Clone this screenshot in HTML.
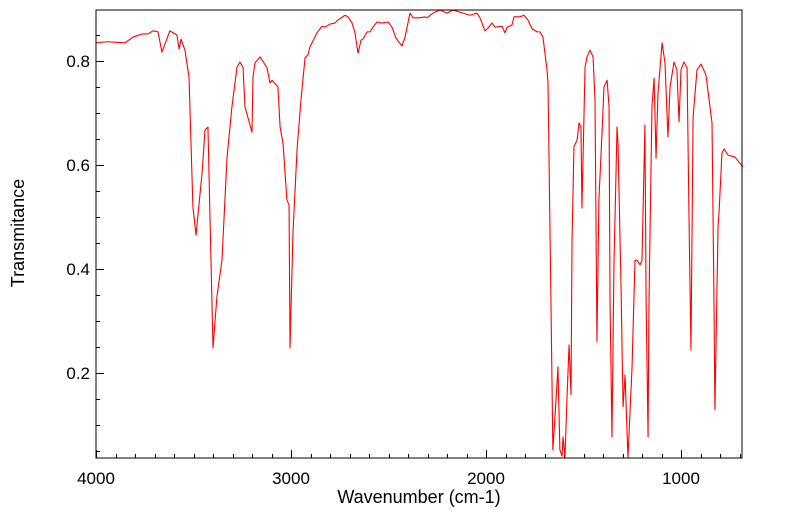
<!DOCTYPE html>
<html><head><meta charset="utf-8"><style>
html,body{margin:0;padding:0;background:#fff;}
svg{display:block;font-family:"Liberation Sans",sans-serif;}
</style></head><body>
<svg id="chart" width="799" height="516" viewBox="0 0 799 516" xmlns="http://www.w3.org/2000/svg">
<g id="ticks"></g>
<g id="labels"></g>
<path id="spectrum" fill="none" stroke="#ff0000" stroke-width="1.1" stroke-linejoin="round"></path>
<rect x="96" y="10" width="646" height="448" fill="none" stroke="#000" stroke-width="1"/>
<text x="419" y="503" font-size="18" text-anchor="middle">Wavenumber (cm-1)</text>
<text x="24" y="233" font-size="18" text-anchor="middle" transform="rotate(-90 24 233)">Transmitance</text>
</svg>
<script>
const wavenumbers=[4000,3944,3851,3810,3764,3733,3708,3682,3662,3621,3585,3574,3564,3544,3523,3503,3487,3456,3441,3426,3400,3380,3354,3328,3303,3277,3262,3246,3236,3200,3195,3185,3159,3123,3108,3097,3067,3056,3041,3021,3010,3005,2990,2969,2949,2928,2913,
2903,2867,2841,2826,2800,2774,2759,2723,2708,2687,2672,2656,2641,2631,2610,2595,2580,2559,2533,2503,2482,2462,2431,2415,2390,2374,2338,2313,2303,2272,2236,2200,2169,2118,2082,2046,2031,2005,1990,1969,1954,1918,1903,1892,1867,1856,1826,1805,1785,1764,1738,1723,1708,1687,
1682,1667,1657,1641,1631,1621,1610,1605,1595,1585,1574,1564,1559,1549,1533,1523,1513,1508,1492,1482,1467,1451,1441,1431,1421,1405,1395,1379,1369,1364,1354,1344,1328,1323,1308,1297,1287,1272,1251,1236,1226,1210,1200,1185,1179,1169,1164,1149,1138,1128,1118,1097,1082,1067,1056,1036,1021,1010,1000,985,969,959,949,938,918,897,872,841,831,826,810,805,790,779,759,723,682];
const transmittance=[0.835,0.837,0.835,0.846,0.852,0.852,0.858,0.856,0.817,0.858,0.850,0.823,0.842,0.821,0.769,0.519,0.465,0.585,0.667,0.673,0.248,0.346,0.417,0.615,0.712,0.788,0.798,0.788,0.712,0.663,0.769,0.796,0.808,0.787,0.758,0.763,0.750,0.673,0.642,0.533,0.523,0.248,0.469,0.629,0.725,0.806,0.812,
0.827,0.854,0.867,0.865,0.871,0.873,0.879,0.888,0.885,0.873,0.854,0.815,0.840,0.842,0.856,0.856,0.865,0.875,0.873,0.875,0.865,0.844,0.829,0.846,0.892,0.883,0.883,0.885,0.883,0.892,0.898,0.892,0.898,0.892,0.888,0.892,0.883,0.858,0.863,0.873,0.865,0.867,0.854,0.865,0.869,0.885,0.885,0.888,0.879,0.862,0.856,0.856,0.846,0.783,
0.758,0.340,0.052,0.148,0.212,0.052,0.040,0.077,0.038,0.148,0.254,0.158,0.450,0.635,0.648,0.681,0.673,0.517,0.788,0.808,0.821,0.808,0.725,0.260,0.533,0.662,0.750,0.763,0.712,0.340,0.077,0.404,0.673,0.642,0.373,0.135,0.196,0.038,0.212,0.417,0.417,0.408,0.417,0.677,0.340,0.077,0.340,0.712,0.767,0.613,0.738,0.835,0.796,0.654,0.750,0.798,0.783,0.683,0.783,0.798,0.787,0.500,0.244,0.692,0.783,0.794,0.773,0.681,0.340,0.129,0.481,0.508,0.623,0.631,0.619,0.615,0.596];
const yTickLabels=[0.2,0.4,0.6,0.8];
const xTickLabels=[4000,3000,2000,1000];

const X0=96,X1=742,Y0=10,Y1=458;
const WN_L=4000,WN_R=4000-(X1-X0)/0.195;
const T_TOP=0.8+51/520,T_BOT=0.8-(Y1-61)/520;
function xs(w){return X0+(WN_L-w)/(WN_L-WN_R)*(X1-X0);}
function ys(t){return Y0+(T_TOP-t)/(T_TOP-T_BOT)*(Y1-Y0);}
const ns="http://www.w3.org/2000/svg";
let d="";
for(let i=0;i<wavenumbers.length;i++){d+=(i?"L":"M")+xs(wavenumbers[i]).toFixed(2)+","+ys(transmittance[i]).toFixed(2);}
document.getElementById('spectrum').setAttribute('d',d);

const tg=document.getElementById('ticks'),lg=document.getElementById('labels');
function line(x1,y1,x2,y2){const l=document.createElementNS(ns,'line');
l.setAttribute('x1',x1);l.setAttribute('y1',y1);l.setAttribute('x2',x2);l.setAttribute('y2',y2);
l.setAttribute('stroke','#000');l.setAttribute('stroke-width','1');


tg.appendChild(l);}
for(let k=0;k<=20;k++){const t=k*0.05;if(t<T_BOT-1e-9||t>T_TOP)continue;const y=Math.round(ys(t))+0.5;const major=Math.abs(t*10-Math.round(t*10))<1e-6&&Math.round(t*10)%2===0;line(X0,y,X0+(major?8:4),y);}
for(let w=4000;w>=WN_R;w-=100){const x=Math.round(xs(w))+0.5;line(x,Y1,x,Y1-(w%1000===0?8:4));}
yTickLabels.forEach(v=>{const t=document.createElementNS(ns,'text');
t.setAttribute('x',X0-6);t.setAttribute('y',ys(v)+6);t.setAttribute('text-anchor','end');t.setAttribute('font-size','17');
t.textContent=v.toFixed(1);


lg.appendChild(t);});
xTickLabels.forEach(v=>{const t=document.createElementNS(ns,'text');
t.setAttribute('x',xs(v));t.setAttribute('y',Y1+26);t.setAttribute('text-anchor','middle');t.setAttribute('font-size','17');
t.textContent=String(v);


lg.appendChild(t);});
</script>
</body></html>
